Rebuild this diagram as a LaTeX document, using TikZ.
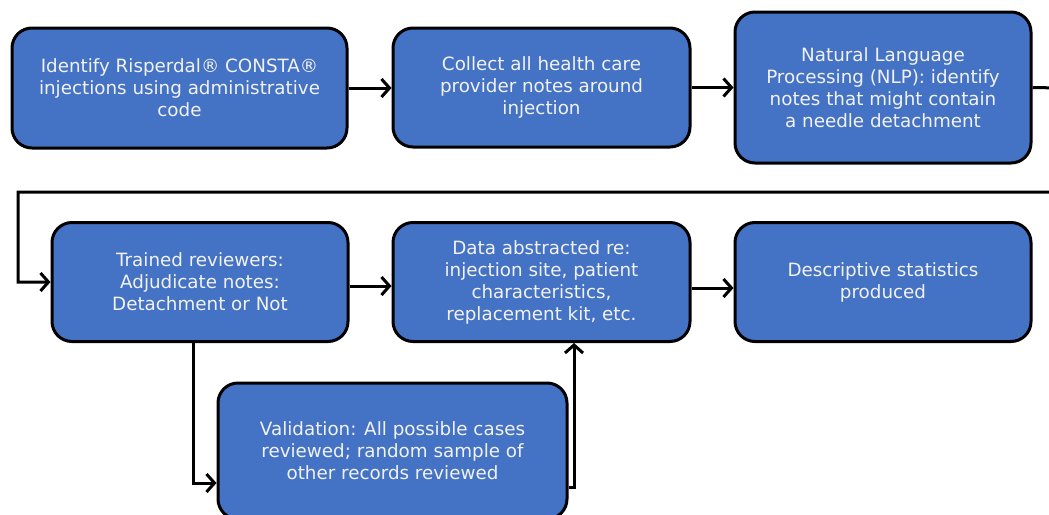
\documentclass[tikz,border=0pt]{standalone}
\usepackage{fontspec}
\setmainfont{DejaVu Sans}
\usetikzlibrary{arrows.meta}
\definecolor{boxblue}{HTML}{4472C4}
\definecolor{txt}{HTML}{F2F2F2}
\tikzset{
  flowbox/.style={draw=black, line width=3pt, fill=boxblue, rounded corners=20pt,
    text=txt, align=center, inner sep=0pt, font=\fontsize{18.3}{22}\selectfont},
  conn/.style={draw=black, line width=3pt, -{Straight Barb[length=8pt,width=18pt,line width=3pt]}},
  plain/.style={draw=black, line width=3pt}
}
\begin{document}
\begin{tikzpicture}[x=1pt,y=-1pt]
\useasboundingbox (0,0) rectangle (1049,514);
\node[flowbox, minimum width=335pt, minimum height=120pt] (b1) at (179.5,88)
  {Identify Risperdal® CONSTA®\\injections using administrative\\code};
\node[flowbox, minimum width=297pt, minimum height=119pt] (b2) at (541.5,87.5)
  {Collect all health care\\provider notes around\\injection};
\node[flowbox, minimum width=296pt, minimum height=151pt] (b3) at (883,87.5)
  {Natural Language\\Processing (NLP): identify\\notes that might contain\\a needle detachment};
\node[flowbox, minimum width=296pt, minimum height=119pt] (b4) at (200,282)
  {Trained reviewers:\\Adjudicate notes:\\Detachment or Not};
\node[flowbox, minimum width=297pt, minimum height=119pt] (b5) at (541.5,282)
  {Data abstracted re:\\injection site, patient\\characteristics,\\replacement kit, etc.};
\node[flowbox, minimum width=296pt, minimum height=119pt] (b6) at (883,282)
  {Descriptive statistics\\produced};
\node[flowbox, minimum width=349pt, minimum height=136pt] (b7) at (392.5,451)
  {Validation: All possible cases\\reviewed; random sample of\\other records reviewed};
\coordinate (r1) at (1060,88);
\coordinate (r2) at (1060,192);
\coordinate (l1) at (18,192);
\coordinate (v1) at (574,487);
\draw[conn] (b1.east |- 0,88) -- (b2.west |- 0,88);
\draw[conn] (b2.east) -- (b3.west);
\draw[conn] (b3.east) -- (r1) -- (r2) -- (l1) |- (b4.west);
\draw[conn] (b4.east |- 0,286) -- (b5.west |- 0,286);
\draw[conn] (b5.east |- 0,288) -- (b6.west |- 0,288);
\draw[conn] (b4.south -| 193,0) |- (b7.west |- 0,483);
\draw[conn] (b7.east |- v1) -- (v1) -- (b5.south -| v1);
\end{tikzpicture}
\end{document}
